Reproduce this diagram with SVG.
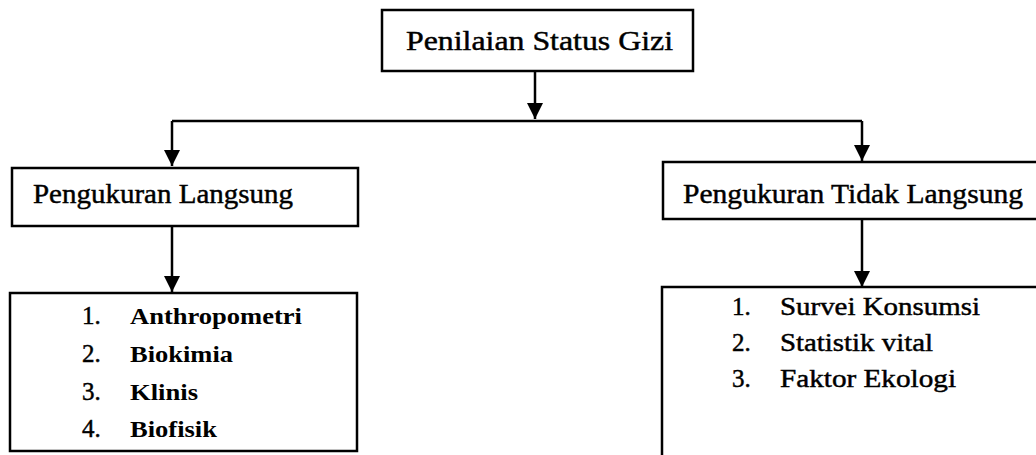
<svg xmlns="http://www.w3.org/2000/svg" width="1036" height="455" viewBox="0 0 1036 455">
<style>
.box{fill:#fff;stroke:#000;stroke-width:2.5}
.conn{fill:none;stroke:#000;stroke-width:2.5}
.t{stroke:#000;stroke-width:0.45}
.h{font-size:28px}
.l{font-size:25px}
.lb{font-size:24px;font-weight:bold}
.r{font-size:25px}
</style>
<defs>
<marker id="ah" markerUnits="userSpaceOnUse" markerWidth="18" markerHeight="18" viewBox="0 0 18 18" refX="17" refY="9" orient="auto">
<path d="M1,1 L17,9 L1,17 Z" fill="#000"/>
</marker>
</defs>
<g id="connectors">
<line class="conn" x1="535" y1="71" x2="535" y2="119" marker-end="url(#ah)"/>
<line class="conn" x1="172" y1="121" x2="862" y2="121"/>
<line class="conn" x1="172" y1="121" x2="172" y2="166" marker-end="url(#ah)"/>
<line class="conn" x1="862" y1="121" x2="862" y2="161" marker-end="url(#ah)"/>
<line class="conn" x1="172" y1="226" x2="172" y2="292" marker-end="url(#ah)"/>
<line class="conn" x1="862" y1="219" x2="862" y2="287" marker-end="url(#ah)"/>
</g>
<g font-family="'Liberation Serif', 'Times New Roman', Tinos, Times, serif" fill="#000">
<g id="node-penilaian">
<rect class="box" x="382" y="10" width="311" height="61"/>
<text class="h t" x="406" y="50" textLength="267" lengthAdjust="spacingAndGlyphs">Penilaian Status Gizi</text>
</g>
<g id="node-langsung">
<rect class="box" x="12" y="168" width="346" height="58"/>
<text class="h t" x="33" y="203" textLength="260" lengthAdjust="spacingAndGlyphs">Pengukuran Langsung</text>
</g>
<g id="node-tidak-langsung">
<rect class="box" x="663" y="162" width="390" height="57"/>
<text class="h t" x="683" y="203" textLength="340" lengthAdjust="spacingAndGlyphs">Pengukuran Tidak Langsung</text>
</g>
<g id="node-list-langsung">
<rect class="box" x="10" y="293" width="347" height="158"/>
<text class="l t" x="82" y="324">1.</text>
<text class="lb" x="130" y="324" textLength="172" lengthAdjust="spacingAndGlyphs">Anthropometri</text>
<text class="l t" x="82" y="362">2.</text>
<text class="lb" x="130" y="362" textLength="103" lengthAdjust="spacingAndGlyphs">Biokimia</text>
<text class="l t" x="82" y="400">3.</text>
<text class="lb" x="130" y="400" textLength="68" lengthAdjust="spacingAndGlyphs">Klinis</text>
<text class="l t" x="82" y="437">4.</text>
<text class="lb" x="130" y="437" textLength="87" lengthAdjust="spacingAndGlyphs">Biofisik</text>
</g>
<g id="node-list-tidak-langsung">
<rect class="box" x="662" y="287" width="390" height="190"/>
<text class="r t" x="732" y="315">1.</text>
<text class="r t" x="780" y="315" textLength="200" lengthAdjust="spacingAndGlyphs">Survei Konsumsi</text>
<text class="r t" x="732" y="351">2.</text>
<text class="r t" x="780" y="351" textLength="153" lengthAdjust="spacingAndGlyphs">Statistik vital</text>
<text class="r t" x="732" y="387">3.</text>
<text class="r t" x="780" y="387" textLength="176" lengthAdjust="spacingAndGlyphs">Faktor Ekologi</text>
</g>
</g>
</svg>
